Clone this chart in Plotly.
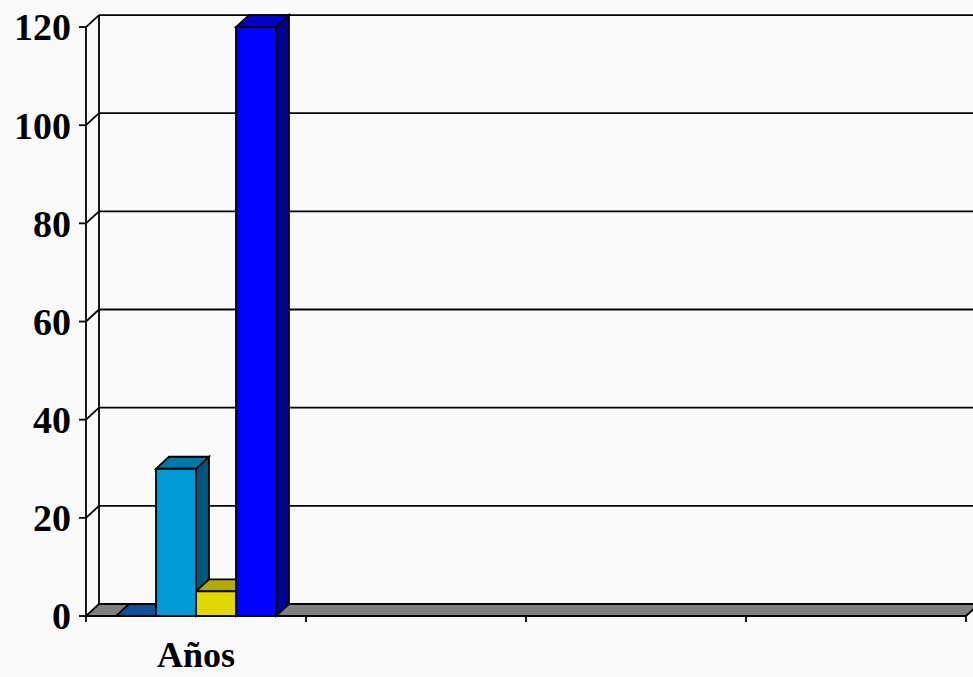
import plotly.graph_objects as go

# ---------------- data ----------------
categories = ["Años"]
series_values = [0, 30, 5, 120]
series_front = ["#1256A0", "#009AD6", "#E0D800", "#0000FF"]
series_top = ["#0F509A", "#0079A9", "#B3AA00", "#0000C8"]
series_side = ["#0A3A70", "#005678", "#807A00", "#000090"]
y_tick_values = [0, 20, 40, 60, 80, 100, 120]
y_tick_labels = ["0", "20", "40", "60", "80", "100", "120"]
n_slots = 4

# ---------------- geometry (pixel scale helpers) ----------------
PXX = 220.0            # pixels per category slot
PXY = 4.908            # pixels per value unit
DX = 13 / PXX          # 3-D depth, x
DY = 12 / PXY          # 3-D depth, y
BAR_W = 40 / PXX
X_MIN = -10 / PXX
X_MAX = 887 / PXX
Y_MIN = -14 / PXY
Y_MAX = 606 / PXY
TICK_Y = 7 / PXX
TICK_X = 6 / PXY
LW = 1.8
BLACK = "#000000"


def poly(pts):
    return "M " + " L ".join(f"{x},{y}" for x, y in pts) + " Z"


shapes = []


def line(x0, y0, x1, y1):
    shapes.append(dict(type="line", xref="x", yref="y", x0=x0, y0=y0, x1=x1, y1=y1,
                       line=dict(color=BLACK, width=LW), layer="below"))


top_val = max(y_tick_values)
# back wall gridlines + connectors + y ticks
for t in y_tick_values:
    line(-TICK_Y, t, 0, t)
    if t > 0:
        line(0, t, DX, t + DY)
        line(DX, t + DY, X_MAX + DX, t + DY)
# front y axis and back wall left edge
line(0, 0, 0, top_val)
line(DX, DY, DX, top_val + DY)
# floor
shapes.append(dict(type="path", xref="x", yref="y",
                   path=poly([(0, 0), (n_slots, 0), (n_slots + DX, DY), (DX, DY)]),
                   fillcolor="#808080", line=dict(color=BLACK, width=LW), layer="below"))
# x ticks
for i in range(n_slots + 1):
    line(i, 0, i, -TICK_X)

# 3-D side/top faces of bars
center = 0.5
for i, v in enumerate(series_values):
    left = center - 2 * BAR_W + i * BAR_W
    right = left + BAR_W
    shapes.append(dict(type="path", xref="x", yref="y",
                       path=poly([(right, 0), (right, v), (right + DX, v + DY), (right + DX, DY)]),
                       fillcolor=series_side[i], line=dict(color=BLACK, width=LW), layer="below"))
    shapes.append(dict(type="path", xref="x", yref="y",
                       path=poly([(left, v), (right, v), (right + DX, v + DY), (left + DX, v + DY)]),
                       fillcolor=series_top[i], line=dict(color=BLACK, width=LW), layer="below"))

fig = go.Figure()
for i, v in enumerate(series_values):
    fig.add_trace(go.Bar(
        x=[center], y=[v], width=[BAR_W], offset=[-2 * BAR_W + i * BAR_W],
        marker=dict(color=series_front[i], line=dict(color=BLACK, width=LW)),
        showlegend=False, hoverinfo="y"))

font = dict(family="Liberation Serif, Times New Roman, serif", size=38, color="#000000")
xfont = dict(family="Liberation Serif, Times New Roman, serif", size=36, color="#000000")

fig.update_layout(
    width=973, height=677,
    margin=dict(l=76, r=0, t=10, b=677 - 10 - 620),
    paper_bgcolor="#fafafa", plot_bgcolor="#fafafa",
    barmode="overlay",
    shapes=shapes,
    showlegend=False,
    xaxis=dict(range=[X_MIN, X_MAX], tickvals=[center],
               ticktext=[f"<b>{c}</b>" for c in categories],
               ticks="", showgrid=False, zeroline=False, showline=False,
               tickfont=xfont, ticklabelstandoff=0, automargin=False),
    yaxis=dict(range=[Y_MIN, Y_MAX], tickvals=y_tick_values,
               ticktext=[f"<b>{s}</b>" for s in y_tick_labels],
               ticks="", showgrid=False, zeroline=False, showline=False,
               tickfont=font, ticklabelstandoff=4, automargin=False),
)

fig.write_html("out.html")
